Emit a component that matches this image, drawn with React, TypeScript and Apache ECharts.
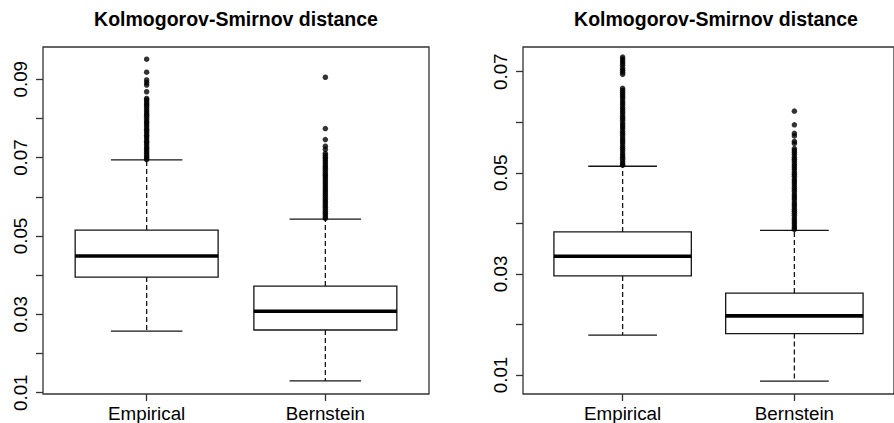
import React, { useEffect, useRef } from "react";
import * as echarts from "echarts";

const categories = ["Empirical", "Bernstein"];
const titleText = "Kolmogorov-Smirnov distance";

// [position, lower whisker, Q1, median, Q3, upper whisker]
const leftEmpiricalStats = [1, 0.0257, 0.0395, 0.0449, 0.0515, 0.0694];
const leftBernsteinStats = [2, 0.013, 0.026, 0.0308, 0.0372, 0.0543];
const rightEmpiricalStats = [1, 0.0179, 0.0296, 0.0335, 0.0383, 0.0513];
const rightBernsteinStats = [2, 0.0088, 0.0182, 0.0217, 0.0262, 0.0386];

const leftEmpiricalOutliers = [
  0.0951, 0.0918, 0.0898, 0.0891, 0.0885, 0.0868, 0.0851, 0.0847, 0.0842, 0.0837,
  0.0833, 0.0828, 0.0822, 0.0817, 0.0812, 0.0808, 0.0803, 0.0797, 0.0792, 0.0788,
  0.0783, 0.0778, 0.0772, 0.0768, 0.0763, 0.0757, 0.0753, 0.0748, 0.0742, 0.0738,
  0.0733, 0.0727, 0.0723, 0.0718, 0.0713, 0.0708, 0.0703, 0.0699, 0.0695,
];
const leftBernsteinOutliers = [
  0.0905, 0.0774, 0.0746, 0.0729, 0.0721, 0.0711, 0.0706, 0.0701, 0.0697, 0.0692,
  0.0687, 0.0682, 0.0677, 0.0673, 0.0668, 0.0662, 0.0657, 0.0653, 0.0648, 0.0643,
  0.0638, 0.0633, 0.0628, 0.0623, 0.0618, 0.0613, 0.0608, 0.0603, 0.0598, 0.0593,
  0.0588, 0.0583, 0.0578, 0.0573, 0.0568, 0.0563, 0.0558, 0.0554, 0.0549, 0.0545,
];
const rightEmpiricalOutliers = [
  0.0729, 0.0725, 0.0721, 0.0717, 0.0713, 0.0707, 0.0703, 0.0699, 0.0695,
  0.0667, 0.0663, 0.0659, 0.0655, 0.0651, 0.0647, 0.0642, 0.0638, 0.0634, 0.0629,
  0.0625, 0.0621, 0.0617, 0.0612, 0.0608, 0.0604, 0.0599, 0.0595, 0.0591, 0.0587,
  0.0582, 0.0578, 0.0574, 0.0569, 0.0565, 0.0561, 0.0557, 0.0552, 0.0548, 0.0544,
  0.0539, 0.0535, 0.0531, 0.0527, 0.0522, 0.0518, 0.0515,
];
const rightBernsteinOutliers = [
  0.0622, 0.0595, 0.0578, 0.0573, 0.0562, 0.0558, 0.0548, 0.0544, 0.0540, 0.0536,
  0.0531, 0.0527, 0.0523, 0.0518, 0.0514, 0.0510, 0.0506, 0.0501, 0.0497, 0.0493,
  0.0488, 0.0484, 0.0480, 0.0476, 0.0471, 0.0467, 0.0463, 0.0458, 0.0454, 0.0450,
  0.0446, 0.0441, 0.0437, 0.0433, 0.0428, 0.0424, 0.0420, 0.0416, 0.0411, 0.0407,
  0.0403, 0.0399, 0.0395, 0.0391, 0.0388,
];

const leftTicks = [0.01, 0.02, 0.03, 0.04, 0.05, 0.06, 0.07, 0.08, 0.09];
const leftLabels = [0.01, 0.03, 0.05, 0.07, 0.09];
const rightTicks = [0.01, 0.02, 0.03, 0.04, 0.05, 0.06, 0.07];
const rightLabels = [0.01, 0.03, 0.05, 0.07];

const FONT = "'Liberation Sans', Arial, Helvetica, sans-serif";
const INK = "#151515";
const FRAME = "#333333";

const renderBox = (params: any, api: any) => {
  const x = api.value(0);
  const lo = api.coord([x, api.value(1)]);
  const q1 = api.coord([x, api.value(2)]);
  const med = api.coord([x, api.value(3)]);
  const q3 = api.coord([x, api.value(4)]);
  const hi = api.coord([x, api.value(5)]);
  const w = api.size([0.8, 0])[0];
  const cx = lo[0];
  const dash = { stroke: INK, lineWidth: 1.3, lineDash: [5, 3] };
  const solid = { stroke: INK, lineWidth: 1.3 };
  return {
    type: "group",
    children: [
      { type: "line", shape: { x1: cx, y1: q3[1], x2: cx, y2: hi[1] }, style: dash },
      { type: "line", shape: { x1: cx, y1: q1[1], x2: cx, y2: lo[1] }, style: dash },
      { type: "line", shape: { x1: cx - w / 4, y1: hi[1], x2: cx + w / 4, y2: hi[1] }, style: solid },
      { type: "line", shape: { x1: cx - w / 4, y1: lo[1], x2: cx + w / 4, y2: lo[1] }, style: solid },
      {
        type: "rect",
        shape: { x: cx - w / 2, y: q3[1], width: w, height: q1[1] - q3[1] },
        style: { fill: "#ffffff", stroke: INK, lineWidth: 1.3 },
      },
      { type: "line", shape: { x1: cx - w / 2, y1: med[1], x2: cx + w / 2, y2: med[1] }, style: { stroke: "#000", lineWidth: 3.6 } },
    ],
  };
};

const makeX = (gridIndex: number) => ({
  type: "value",
  gridIndex,
  min: 0.42,
  max: 2.58,
  axisLine: { show: false },
  splitLine: { show: false },
  axisTick: { show: true, length: 7, customValues: [1, 2], lineStyle: { color: FRAME, width: 1.3 } },
  axisLabel: {
    show: true,
    customValues: [1, 2],
    margin: 10,
    formatter: (v: number) => categories[Math.round(v) - 1] ?? "",
    fontFamily: FONT,
    fontSize: 18.8,
    color: "#000",
  },
});

const makeY = (gridIndex: number, min: number, max: number, ticks: number[], labels: number[]) => ({
  type: "value",
  gridIndex,
  min,
  max,
  axisLine: { show: false },
  splitLine: { show: false },
  axisTick: { show: true, length: 7, customValues: ticks, lineStyle: { color: FRAME, width: 1.3 } },
  axisLabel: {
    show: true,
    customValues: labels,
    rotate: 90,
    margin: 13,
    formatter: (v: number) => v.toFixed(2),
    fontFamily: FONT,
    fontSize: 18.8,
    color: "#000",
  },
});

export default function App() {
  const ref = useRef<HTMLDivElement>(null);
  useEffect(() => {
    if (!ref.current) return;
    const chart = echarts.init(ref.current, undefined, { renderer: "svg" });
    const scatter = (xi: number, pos: number, vals: number[]) => ({
      type: "scatter",
      xAxisIndex: xi,
      yAxisIndex: xi,
      symbol: "circle",
      symbolSize: 5.5,
      itemStyle: { color: "#000" },
      z: 5,
      data: vals.map((v) => [pos, v]),
    });
    const titleStyle = {
      text: titleText,
      font: `bold 19.5px ${FONT}`,
      fill: "#000",
      align: "center",
      verticalAlign: "middle",
      textAlign: "center",
      textVerticalAlign: "middle",
    };
    chart.setOption({
      animation: false,
      backgroundColor: "#ffffff",
      graphic: [
        { type: "text", x: 236, y: 19, style: titleStyle },
        { type: "text", x: 716, y: 19, style: titleStyle },
      ],
      grid: [
        { left: 43, top: 47, width: 386, height: 347, show: true, borderColor: FRAME, borderWidth: 1.3, backgroundColor: "transparent" },
        { left: 523, top: 47, width: 386, height: 347, show: true, borderColor: FRAME, borderWidth: 1.3, backgroundColor: "transparent" },
      ],
      xAxis: [makeX(0), makeX(1)],
      yAxis: [
        makeY(0, 0.00967, 0.09822, leftTicks, leftLabels),
        makeY(1, 0.00624, 0.07489, rightTicks, rightLabels),
      ],
      series: [
        {
          type: "custom",
          xAxisIndex: 0,
          yAxisIndex: 0,
          renderItem: renderBox,
          encode: { x: 0, y: [1, 2, 3, 4, 5] },
          data: [leftEmpiricalStats, leftBernsteinStats],
          clip: false,
        },
        {
          type: "custom",
          xAxisIndex: 1,
          yAxisIndex: 1,
          renderItem: renderBox,
          encode: { x: 0, y: [1, 2, 3, 4, 5] },
          data: [rightEmpiricalStats, rightBernsteinStats],
          clip: false,
        },
        scatter(0, 1, leftEmpiricalOutliers),
        scatter(0, 2, leftBernsteinOutliers),
        scatter(1, 1, rightEmpiricalOutliers),
        scatter(1, 2, rightBernsteinOutliers),
      ],
    });
    return () => chart.dispose();
  }, []);
  return (
    <div
      ref={ref}
      style={{ position: "fixed", left: 0, top: 0, width: 894, height: 423, background: "#fff" }}
    />
  );
}
